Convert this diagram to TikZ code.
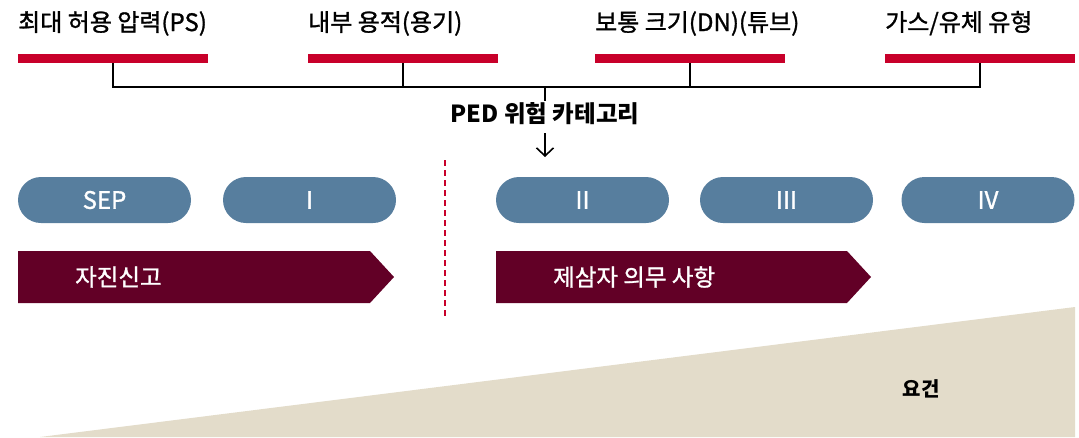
\documentclass[tikz,border=0pt]{standalone}
\usepackage{fontspec}
\setmainfont{Noto Sans CJK KR}
\newfontfamily\krmed{Noto Sans CJK KR}[FakeBold=1.2]
\usetikzlibrary{arrows.meta}
\definecolor{barred}{HTML}{C8002A}
\definecolor{pillblue}{HTML}{577E9E}
\definecolor{wine}{HTML}{620026}
\definecolor{beige}{HTML}{E3DCCA}
\tikzset{
  toplabel/.style={anchor=base west, inner sep=0pt, font=\fontsize{24}{26}\krmed},
  redbar/.style={fill=barred, draw=none},
  pill/.style={fill=pillblue, draw=none, rounded corners=23pt, minimum width=173pt, minimum height=46pt, text=white, font=\fontsize{24}{26}\krmed, inner sep=0pt},
  chev/.style={fill=wine, draw=none},
  chevtext/.style={text=white, anchor=west, inner sep=0pt, font=\fontsize{23.5}{26}\krmed},
  conn/.style={line width=1.6pt, black},
}
\begin{document}
\begin{tikzpicture}[x=1pt,y=-1pt]
\useasboundingbox (0,0) rectangle (1079,437);
% beige wedge
\fill[beige] (40,437) -- (1075,307) -- (1075,437) -- cycle;
\node[anchor=center, font=\fontsize{20}{24}\selectfont\bfseries] (req) at (921,389) {요건};
% top labels
\node[toplabel] (l1) at (18,31) {최대 허용 압력(PS)};
\node[toplabel] (l2) at (308,31) {내부 용적(용기)};
\node[toplabel] (l3) at (595,31) {보통 크기(DN)(튜브)};
\node[toplabel] (l4) at (885,31) {가스/유체 유형};
% red bars
\fill[redbar] (18,54) rectangle (208,63);
\fill[redbar] (308,54) rectangle (498,63);
\fill[redbar] (595,54) rectangle (785,63);
\fill[redbar] (885,54) rectangle (1075,63);
\coordinate (b1) at (113,63);
\coordinate (b2) at (403,63);
\coordinate (b3) at (690,63);
\coordinate (b4) at (980,63);
\coordinate (hub) at (545,87);
\draw[conn] (b1) |- (hub) -| (b4);
\draw[conn] (b2) -- (b2 |- hub);
\draw[conn] (b3) -- (b3 |- hub);
\node[font=\fontsize{23.5}{26}\selectfont\bfseries, inner sep=2pt] (ped) at (545,114) {PED 위험 카테고리};
\coordinate (arrend) at (545,157);
\draw[conn] (hub) -- (ped.north);
\draw[line width=1.6pt, -{Straight Barb[length=8pt,width=17pt]}] (ped.south) ++(0,6) -- (arrend);
% dashed divider
\draw[barred, line width=2pt, dash pattern=on 6pt off 4pt] (445,160) -- (445,318);
% pills
\node[pill] (sep) at (104.5,200) {SEP};
\node[pill] (c1) at (309.5,200) {I};
\node[pill] (c2) at (582.5,200) {II};
\node[pill] (c3) at (786.5,200) {III};
\node[pill] (c4) at (988,200) {IV};
% chevrons
\fill[chev] (18,251) -- (370,251) -- (394,277) -- (370,303) -- (18,303) -- cycle;
\node[chevtext] (self) at (75,277) {자진신고};
\fill[chev] (496,251) -- (847,251) -- (871,277) -- (847,303) -- (496,303) -- cycle;
\node[chevtext] (third) at (553,277) {제삼자 의무 사항};
\end{tikzpicture}
\end{document}
